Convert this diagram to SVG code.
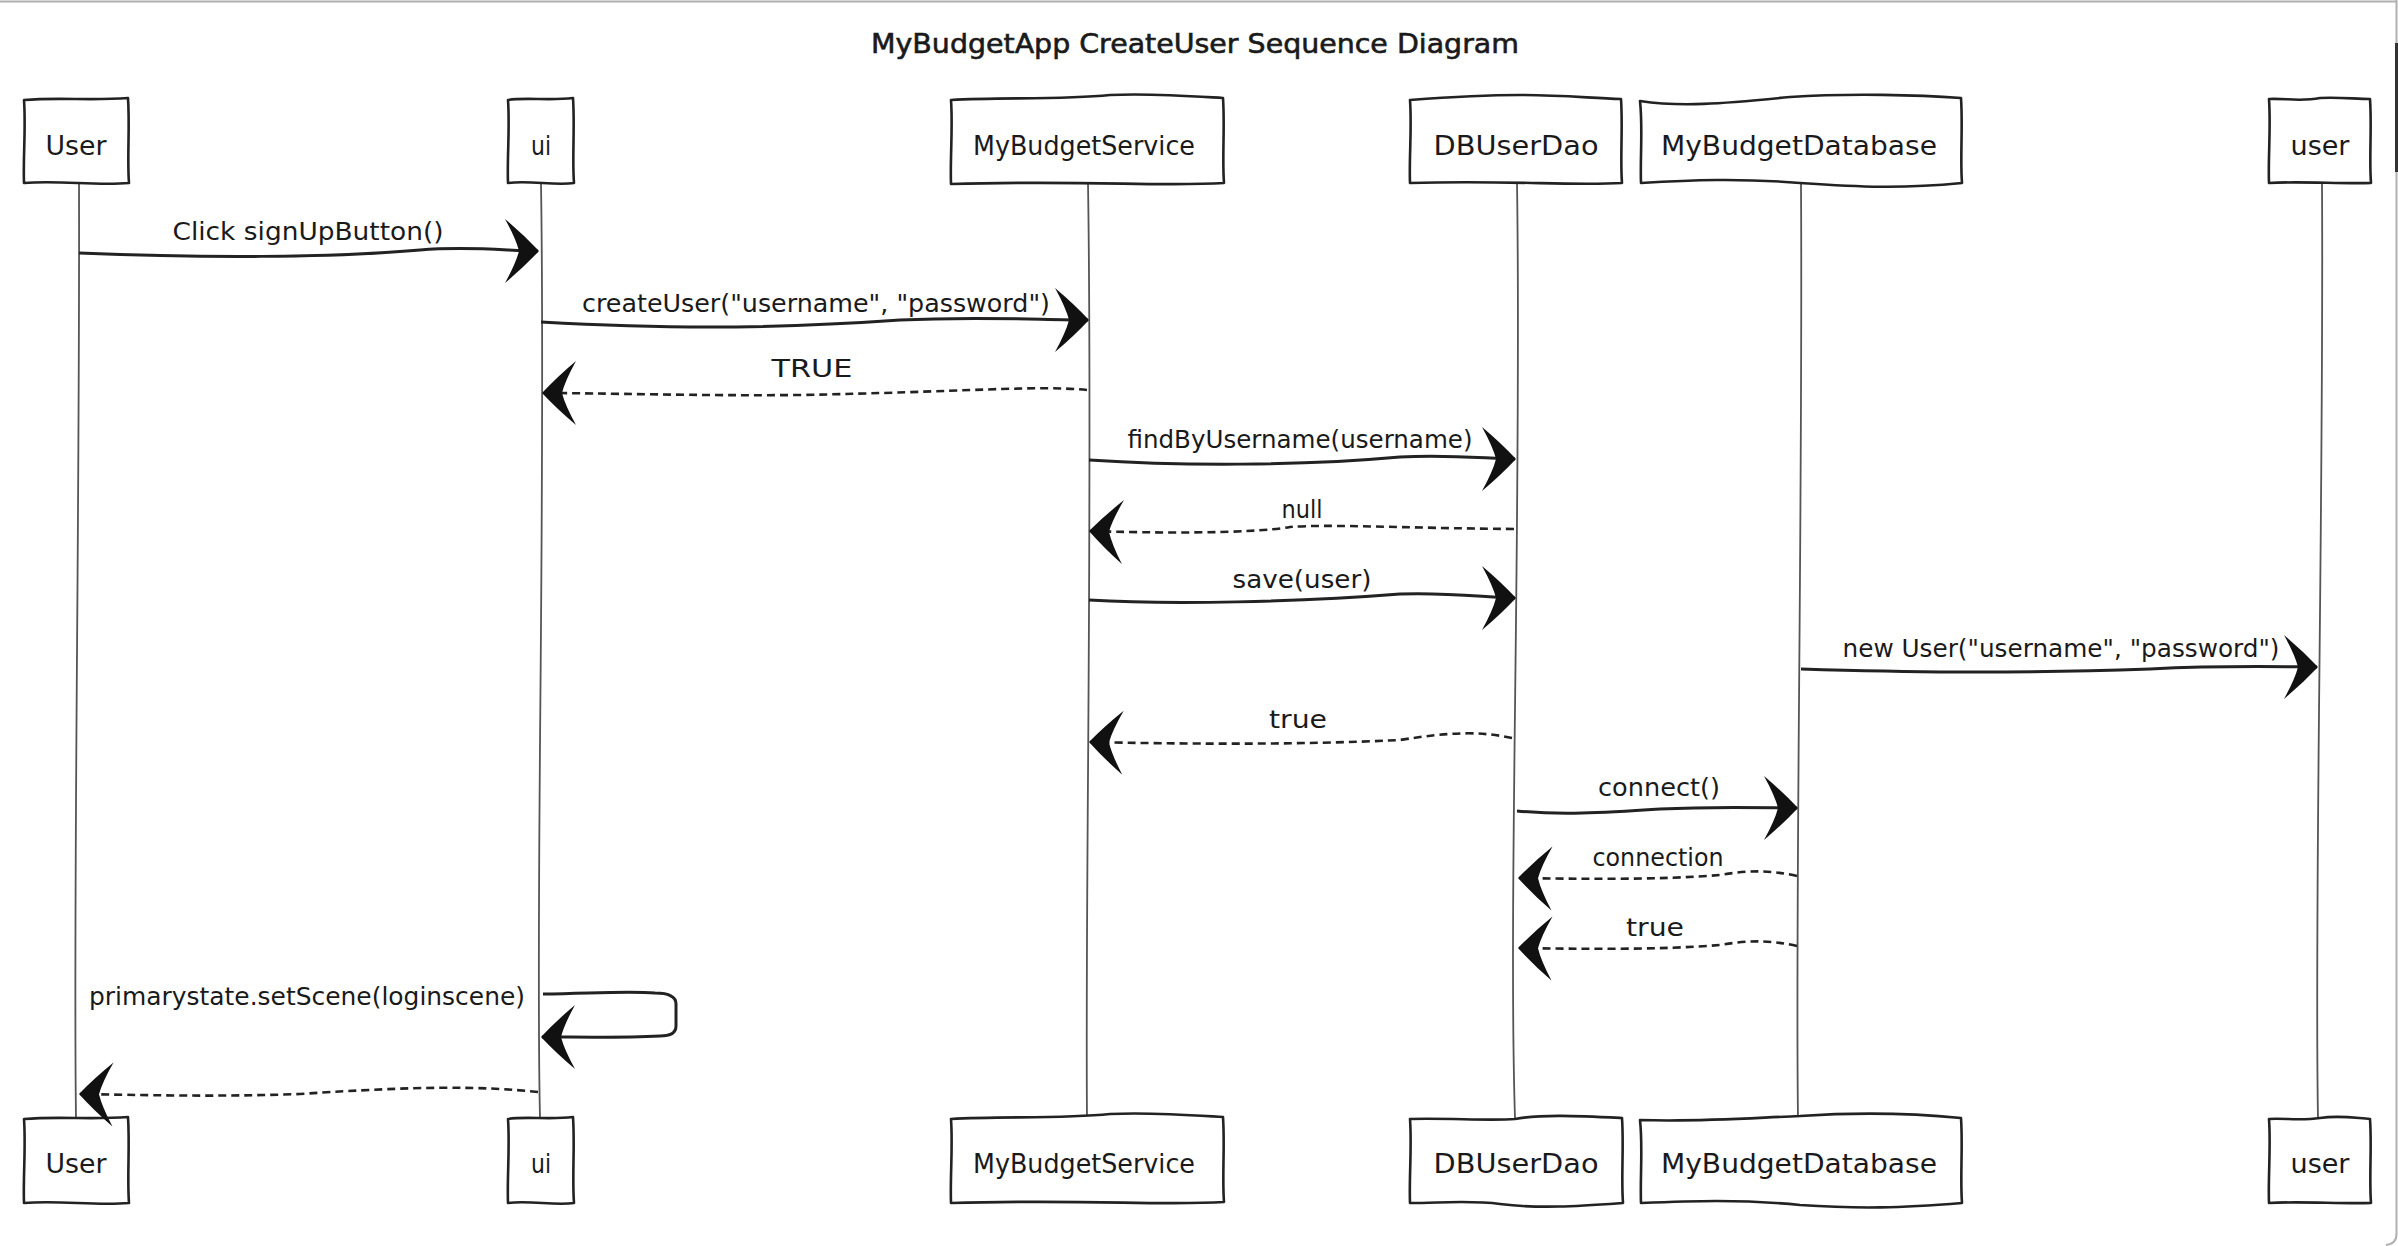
<svg xmlns="http://www.w3.org/2000/svg" width="2398" height="1246" viewBox="0 0 2398 1246">
<defs>
<style>
.box{fill:#fff;stroke:#222;stroke-width:2.6;stroke-linejoin:round}
.life{fill:none;stroke:#555;stroke-width:1.8}
.msg{fill:none;stroke:#222;stroke-width:3;stroke-linecap:butt}
.ret{fill:none;stroke:#222;stroke-width:2.6;stroke-dasharray:8 5}
.t{font-family:"DejaVu Sans","Liberation Sans",sans-serif;fill:#1a1a1a;text-anchor:middle}
.bl{font-size:26px}
.ml{font-size:24px}
.title{font-size:27px;stroke:#1a1a1a;stroke-width:0.6}
</style>
<marker id="ah" markerUnits="userSpaceOnUse" markerWidth="50" markerHeight="80" viewBox="-40 -40 50 80" refX="0" refY="0" orient="auto" overflow="visible">
<path d="M1,0 Q-14,-16 -33,-32 Q-22,-12 -19,0 Q-22,12 -33,32 Q-14,16 1,0 Z" fill="#111"/>
</marker>
</defs>
<rect x="0" y="0" width="2398" height="1246" fill="#fff"/>
<g id="frame">
<path d="M0,1.5 L2396,1.5 M2396.5,0 L2396.5,1234 Q2396.5,1244 2386,1245" fill="none" stroke="#b0b0b0" stroke-width="2"/>
<rect x="2395" y="43" width="3" height="129" fill="#333"/>
</g>
<text class="t title" x="1195" y="53" textLength="648" lengthAdjust="spacingAndGlyphs">MyBudgetApp CreateUser Sequence Diagram</text>

<g id="node-User">
<path class="life" d="M79,183 C80,500 73,900 76,1118"/>
<path class="box" d="M24,100 C60,97 90,101 128,98 C130,128 127,158 129,183 C95,186 60,180 24,183 C23,158 26,128 24,100 Z"/>
<text class="t bl" x="76" y="155" textLength="61" lengthAdjust="spacingAndGlyphs">User</text>
<path class="box" d="M24,1119 C60,1116 90,1120 128,1117 C130,1147 127,1177 129,1203 C95,1206 60,1200 24,1203 C23,1177 26,1147 24,1119 Z"/>
<text class="t bl" x="76" y="1173" textLength="61" lengthAdjust="spacingAndGlyphs">User</text>
</g>
<g id="node-ui">
<path class="life" d="M541,183 C546,500 535,900 540,1118"/>
<path class="box" d="M508,100 C525,97 550,101 573,98 C575,128 572,158 574,183 C555,186 530,180 508,183 C507,158 510,128 508,100 Z"/>
<text class="t bl" x="541" y="155" textLength="20" lengthAdjust="spacingAndGlyphs">ui</text>
<path class="box" d="M508,1119 C525,1116 550,1120 573,1117 C575,1147 572,1177 574,1203 C555,1206 530,1200 508,1203 C507,1177 510,1147 508,1119 Z"/>
<text class="t bl" x="541" y="1173" textLength="20" lengthAdjust="spacingAndGlyphs">ui</text>
</g>
<g id="node-MyBudgetService">
<path class="life" d="M1088,183 C1093,500 1085,900 1087,1118"/>
<path class="box" d="M951,100 C1000,97 1060,100 1110,95 C1150,93 1190,96 1223,98 C1225,128 1222,158 1224,183 C1160,187 1090,180 951,184 C950,158 953,128 951,100 Z"/>
<text class="t bl" x="1084" y="155" textLength="222" lengthAdjust="spacingAndGlyphs">MyBudgetService</text>
<path class="box" d="M951,1119 C1000,1116 1060,1119 1110,1114 C1150,1112 1190,1115 1223,1117 C1225,1147 1222,1177 1224,1202 C1160,1206 1090,1199 951,1203 C950,1177 953,1147 951,1119 Z"/>
<text class="t bl" x="1084" y="1173" textLength="222" lengthAdjust="spacingAndGlyphs">MyBudgetService</text>
</g>
<g id="node-DBUserDao">
<path class="life" d="M1517,183 C1522,500 1508,900 1515,1118"/>
<path class="box" d="M1410,100 C1450,97 1480,95 1520,95 C1560,95 1590,98 1621,99 C1623,128 1620,158 1622,183 C1570,186 1510,180 1410,183 C1409,158 1412,128 1410,100 Z"/>
<text class="t bl" x="1516" y="155" textLength="165" lengthAdjust="spacingAndGlyphs">DBUserDao</text>
<path class="box" d="M1410,1119 C1450,1118 1490,1121 1515,1119 C1540,1114 1580,1116 1622,1118 C1624,1147 1621,1177 1623,1203 C1580,1206 1540,1209 1500,1204 C1470,1200 1440,1203 1410,1203 C1409,1177 1412,1147 1410,1119 Z"/>
<text class="t bl" x="1516" y="1173" textLength="165" lengthAdjust="spacingAndGlyphs">DBUserDao</text>
</g>
<g id="node-MyBudgetDatabase">
<path class="life" d="M1801,183 C1803,500 1795,900 1798,1118"/>
<path class="box" d="M1640,101 C1680,107 1720,104 1790,97 C1850,93 1920,95 1961,98 C1963,128 1960,158 1962,183 C1900,189 1860,187 1800,183 C1740,178 1690,180 1641,183 C1640,158 1643,128 1640,101 Z"/>
<text class="t bl" x="1799" y="155" textLength="276" lengthAdjust="spacingAndGlyphs">MyBudgetDatabase</text>
<path class="box" d="M1640,1120 C1700,1122 1750,1118 1800,1116 C1860,1112 1920,1114 1961,1118 C1963,1147 1960,1177 1962,1203 C1900,1208 1860,1209 1800,1205 C1740,1199 1690,1201 1641,1203 C1640,1177 1643,1147 1640,1120 Z"/>
<text class="t bl" x="1799" y="1173" textLength="276" lengthAdjust="spacingAndGlyphs">MyBudgetDatabase</text>
</g>
<g id="node-user">
<path class="life" d="M2322,183 C2324,500 2314,900 2318,1118"/>
<path class="box" d="M2269,99 C2285,98 2300,102 2320,98 C2340,97 2355,99 2370,99 C2372,128 2369,158 2371,183 C2340,184 2300,181 2269,183 C2268,158 2271,128 2269,99 Z"/>
<text class="t bl" x="2320" y="155" textLength="59" lengthAdjust="spacingAndGlyphs">user</text>
<path class="box" d="M2269,1119 C2285,1118 2300,1121 2320,1118 C2340,1115 2355,1118 2370,1119 C2372,1147 2369,1177 2371,1203 C2340,1204 2300,1201 2269,1203 C2268,1177 2271,1147 2269,1119 Z"/>
<text class="t bl" x="2320" y="1173" textLength="59" lengthAdjust="spacingAndGlyphs">user</text>
</g>

<g id="connectors">
<path class="msg" marker-end="url(#ah)" d="M79,253 C200,258 330,258 420,250 C470,246 510,251 538,251"/>
<text class="t ml" x="308" y="240" textLength="271" lengthAdjust="spacingAndGlyphs">Click signUpButton()</text>

<path class="msg" marker-end="url(#ah)" d="M541,322 C650,328 760,330 900,320 C980,316 1040,320 1088,320"/>
<text class="t ml" x="816" y="312" textLength="468" lengthAdjust="spacingAndGlyphs">createUser("username", "password")</text>

<path class="ret" marker-end="url(#ah)" d="M1087,390 C1040,385 960,392 800,395 C700,396 600,393 543,393"/>
<text class="t ml" x="812" y="377" textLength="81" lengthAdjust="spacingAndGlyphs">TRUE</text>

<path class="msg" marker-end="url(#ah)" d="M1089,460 C1180,466 1300,466 1400,457 C1450,454 1490,459 1515,459"/>
<text class="t ml" x="1300" y="448" textLength="345" lengthAdjust="spacingAndGlyphs">findByUsername(username)</text>

<path class="ret" marker-end="url(#ah)" d="M1514,529 C1400,528 1330,524 1290,527 C1250,534 1150,533 1090,531"/>
<text class="t ml" x="1302" y="518" textLength="41" lengthAdjust="spacingAndGlyphs">null</text>

<path class="msg" marker-end="url(#ah)" d="M1089,600 C1170,605 1300,602 1400,594 C1450,592 1490,598 1515,598"/>
<text class="t ml" x="1302" y="588" textLength="139" lengthAdjust="spacingAndGlyphs">save(user)</text>

<path class="msg" marker-end="url(#ah)" d="M1801,669 C1900,672 2000,674 2150,669 C2230,665 2290,667 2317,667"/>
<text class="t ml" x="2061" y="657" textLength="437" lengthAdjust="spacingAndGlyphs">new User("username", "password")</text>

<path class="ret" marker-end="url(#ah)" d="M1512,738 C1480,731 1450,732 1400,740 C1300,745 1180,744 1090,742"/>
<text class="t ml" x="1298" y="728" textLength="58" lengthAdjust="spacingAndGlyphs">true</text>

<path class="msg" marker-end="url(#ah)" d="M1517,811 C1560,815 1600,813 1660,809 C1720,806 1770,808 1797,808"/>
<text class="t ml" x="1659" y="796" textLength="122" lengthAdjust="spacingAndGlyphs">connect()</text>

<path class="ret" marker-end="url(#ah)" d="M1797,876 C1770,870 1750,870 1720,875 C1660,880 1580,879 1519,878"/>
<text class="t ml" x="1658" y="866" textLength="131" lengthAdjust="spacingAndGlyphs">connection</text>

<path class="ret" marker-end="url(#ah)" d="M1797,946 C1770,940 1750,940 1720,945 C1660,950 1580,949 1519,948"/>
<text class="t ml" x="1655" y="936" textLength="58" lengthAdjust="spacingAndGlyphs">true</text>

<path class="msg" marker-end="url(#ah)" d="M543,994 C600,993 630,991 655,993 Q676,993 676,1004 L676,1026 Q676,1036 660,1036 C620,1038 580,1037 542,1037"/>
<text class="t ml" x="307" y="1005" textLength="436" lengthAdjust="spacingAndGlyphs">primarystate.setScene(loginscene)</text>

<path class="ret" marker-end="url(#ah)" d="M538,1092 C480,1086 420,1086 300,1094 C220,1097 140,1095 80,1094"/>
</g>
</svg>
